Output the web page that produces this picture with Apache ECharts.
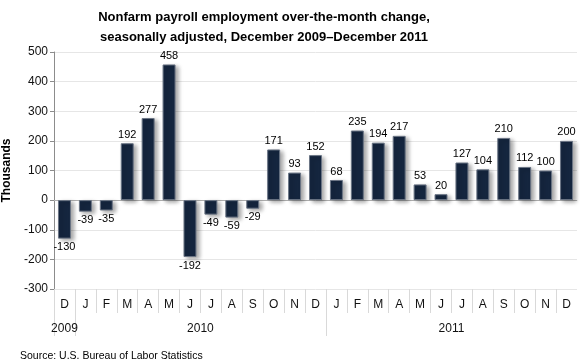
<!DOCTYPE html>
<html><head><meta charset="utf-8">
<script src="https://cdn.jsdelivr.net/npm/echarts@6/dist/echarts.min.js"></script>
<style>html,body{margin:0;padding:0;background:#fff}#c{width:580px;height:364px}</style>
</head><body><div id="c"></div>
<script>
var months = ['D','J','F','M','A','M','J','J','A','S','O','N','D','J','F','M','A','M','J','J','A','S','O','N','D'];
var values = [-130,-39,-35,192,277,458,-192,-49,-59,-29,171,93,152,68,235,194,217,53,20,127,104,210,112,100,200];
var years = ['2009','2010','2011'];
var yearStarts = [0,1,13];
var yTicks = {min:-300,max:500,interval:100};

var n = months.length;
var monthBoundaries = [];
for (var i = 1; i < n; i++) monthBoundaries.push(i);
var yearCenters = yearStarts.map(function(s,k){var e = k+1<yearStarts.length?yearStarts[k+1]:n; return (s+e)/2;});

var font = '"Liberation Sans", Arial, sans-serif';
var chart = echarts.init(document.getElementById('c'), null, {renderer:'canvas'});
chart.setOption({
  animation:false,
  title:[{
    text:'Nonfarm payroll employment over-the-month change,\nseasonally adjusted, December 2009\u2013December 2011',
    left:259, textAlign:'center', top:2,
    textStyle:{fontFamily:font,fontSize:13,fontWeight:'bold',color:'#000',lineHeight:20}
  },{
    text:'Source: U.S. Bureau of Labor Statistics',
    left:15, top:346,
    textStyle:{fontFamily:font,fontSize:10.5,fontWeight:'normal',color:'#000'}
  }],
  grid:{left:54,right:3,top:52,bottom:75,outerBoundsMode:'none',containLabel:false},
  xAxis:[{
    type:'category', data:months, position:'bottom',
    axisLine:{show:true,lineStyle:{color:'#d9d9d9'}},
    axisTick:{show:false},
    axisLabel:{margin:10,fontFamily:font,fontSize:12,color:'#111'}
  },{
    type:'value', min:0, max:n, position:'bottom',
    axisLine:{show:false}, splitLine:{show:false},
    axisTick:{show:true,length:24,lineStyle:{color:'#d9d9d9'},customValues:monthBoundaries},
    axisLabel:{show:false}
  },{
    type:'value', min:0, max:n, position:'bottom',
    axisLine:{show:false}, splitLine:{show:false},
    axisTick:{show:true,length:47,lineStyle:{color:'#d9d9d9'},customValues:yearStarts},
    axisLabel:{margin:34,fontFamily:font,fontSize:12,color:'#111',customValues:yearCenters,
      formatter:function(v){var k = yearCenters.indexOf(v); return k>=0?years[k]:'';}}
  }],
  yAxis:{
    type:'value', min:yTicks.min, max:yTicks.max, interval:yTicks.interval,
    name:'Thousands', nameLocation:'middle', nameGap:36, nameRotate:90,
    nameTextStyle:{fontFamily:font,fontSize:12,fontWeight:'bold',color:'#000'},
    axisLine:{show:true,lineStyle:{color:'#8c8c8c'}},
    axisTick:{show:true,length:4,lineStyle:{color:'#8c8c8c'}},
    axisLabel:{fontFamily:font,fontSize:12,color:'#111',margin:6},
    splitLine:{show:true,lineStyle:{color:'#e6e6e6'}}
  },
  series:[{
    type:'bar', xAxisIndex:0, barWidth:'62%',
    data:values.map(function(v){return {value:v,label:{position:v<0?'bottom':'top'}};}),
    itemStyle:{color:'#15263f',borderColor:'#6b7585',borderWidth:1,
      shadowColor:'rgba(0,0,0,0.35)',shadowBlur:4,shadowOffsetX:3,shadowOffsetY:2},
    label:{show:true,fontFamily:font,fontSize:11,color:'#000',distance:3},
    markLine:{silent:true,symbol:'none',label:{show:false},
      lineStyle:{color:'#b0b0b0',type:'solid',width:1},data:[{yAxis:0}],z:1},
    z:2
  }]
});
</script></body></html>
